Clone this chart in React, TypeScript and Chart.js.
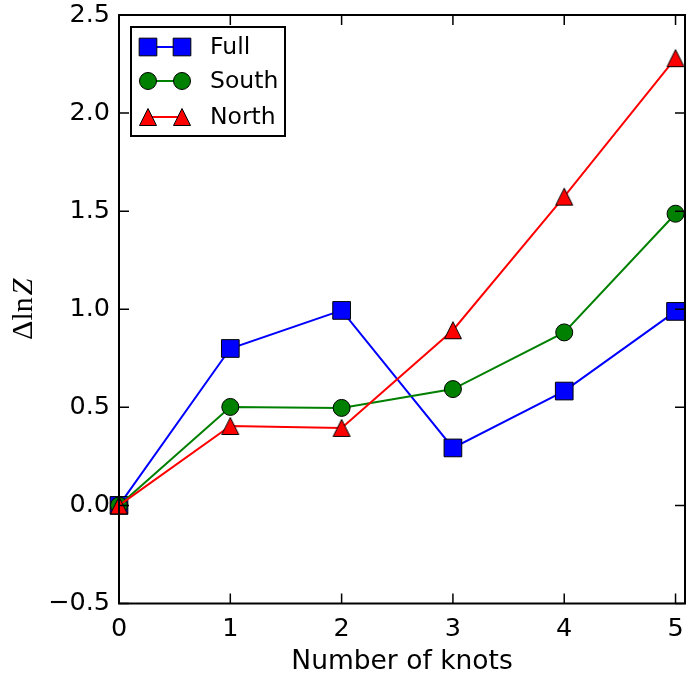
import React, { useEffect, useRef } from "react";
import { Chart, registerables } from "chart.js";

Chart.register(...registerables);

const knots = [0, 1, 2, 3, 4, 5];
const fullValues = [0, 0.8, 0.994, 0.293, 0.583, 0.989];
const southValues = [0, 0.502, 0.497, 0.593, 0.882, 1.487];
const northValues = [0, 0.405, 0.395, 0.893, 1.574, 2.28];
const xTickValues = [0, 1, 2, 3, 4, 5];
const yTickValues = [-0.5, 0, 0.5, 1.0, 1.5, 2.0, 2.5];
const seriesNames = ["Full", "South", "North"];
const xTitle = "Number of knots";

const TRI = 17;

function triPath(ctx: CanvasRenderingContext2D, cx: number, cy: number, s: number) {
  ctx.moveTo(cx, cy - s / 2);
  ctx.lineTo(cx + s / 2, cy + s / 2);
  ctx.lineTo(cx - s / 2, cy + s / 2);
  ctx.closePath();
}

function makeTriangle(fill: string): HTMLCanvasElement {
  const c = document.createElement("canvas");
  const size = TRI + 3;
  c.width = size;
  c.height = size;
  const g = c.getContext("2d")!;
  g.beginPath();
  triPath(g, size / 2, size / 2, TRI);
  g.fillStyle = fill;
  g.fill();
  g.lineWidth = 1;
  g.strokeStyle = "#000";
  g.stroke();
  return c;
}

function drawMarker(ctx: CanvasRenderingContext2D, style: any, x: number, y: number, r: number, fill: string) {
  ctx.save();
  ctx.beginPath();
  if (style === "rect") {
    const s = Math.SQRT1_2 * r;
    ctx.rect(x - s, y - s, 2 * s, 2 * s);
  } else if (style === "circle") {
    ctx.arc(x, y, r, 0, Math.PI * 2);
  } else {
    triPath(ctx, x, y, TRI);
  }
  ctx.fillStyle = fill;
  ctx.fill();
  ctx.lineWidth = 1;
  ctx.strokeStyle = "#000";
  ctx.stroke();
  ctx.restore();
}

const framePlugin = {
  id: "frameTicks",
  afterDatasetsDraw(chart: any) {
    const { ctx, chartArea, scales } = chart;
    const { left, right, top, bottom } = chartArea;
    const x = scales.x;
    const y = scales.y;
    const tl = 10;
    ctx.save();
    ctx.strokeStyle = "#000";
    ctx.lineWidth = 1.5;
    ctx.beginPath();
    for (const v of xTickValues) {
      const px = x.getPixelForValue(v);
      ctx.moveTo(px, bottom);
      ctx.lineTo(px, bottom - tl);
      ctx.moveTo(px, top);
      ctx.lineTo(px, top + tl);
    }
    for (const v of yTickValues) {
      const py = y.getPixelForValue(v);
      ctx.moveTo(left, py);
      ctx.lineTo(left + tl, py);
      ctx.moveTo(right, py);
      ctx.lineTo(right - tl, py);
    }
    ctx.stroke();
    ctx.lineWidth = 2;
    ctx.strokeRect(left, top, right - left, bottom - top);

    // legend
    const bx = left + 12;
    const by = top + 12;
    const bw = 154;
    const bh = 109;
    ctx.fillStyle = "#fff";
    ctx.fillRect(bx, by, bw, bh);
    ctx.lineWidth = 2;
    ctx.strokeRect(bx, by, bw, bh);
    const rows = [20, 54, 90];
    chart.data.datasets.forEach((ds: any, i: number) => {
      const ry = by + rows[i];
      const x1 = bx + 17;
      const x2 = bx + 51;
      ctx.beginPath();
      ctx.strokeStyle = ds.borderColor;
      ctx.lineWidth = 2;
      ctx.moveTo(x1, ry);
      ctx.lineTo(x2, ry);
      ctx.stroke();
      drawMarker(ctx, ds.pointStyle, x1, ry, ds.pointRadius, ds.backgroundColor);
      drawMarker(ctx, ds.pointStyle, x2, ry, ds.pointRadius, ds.backgroundColor);
      ctx.fillStyle = "#000";
      ctx.font = "23.5px 'DejaVu Sans'";
      ctx.textAlign = "left";
      ctx.textBaseline = "middle";
      ctx.fillText(ds.label, bx + 79, ry + 1);
    });

    // y axis title (mathtext style)
    ctx.save();
    ctx.translate(32, (top + bottom) / 2);
    ctx.rotate(-Math.PI / 2);
    ctx.fillStyle = "#000";
    ctx.textBaseline = "alphabetic";
    ctx.textAlign = "left";
    const fs = 30;
    const t1 = "\u0394ln";
    ctx.font = `${fs}px 'Liberation Serif'`;
    const w1 = ctx.measureText(t1).width;
    ctx.font = `italic ${fs}px 'Liberation Serif'`;
    const w2 = ctx.measureText("Z").width;
    const start = -(w1 + w2 + 2) / 2;
    ctx.font = `${fs}px 'Liberation Serif'`;
    ctx.fillText(t1, start, 0);
    ctx.font = `italic ${fs}px 'Liberation Serif'`;
    ctx.fillText("Z", start + w1 + 2, 0);
    ctx.restore();
    ctx.restore();
  },
};

const zeroPad = (s: any) => {
  s.paddingTop = 0;
  s.paddingBottom = 0;
  s.paddingLeft = 0;
  s.paddingRight = 0;
};

export default function App() {
  const ref = useRef<HTMLCanvasElement | null>(null);
  useEffect(() => {
    document.body.style.margin = "0";
    const canvas = ref.current;
    if (!canvas) return;
    const mk = (label: string, data: number[], color: string, style: any, radius: number, order: number) => ({
      label,
      data: knots.map((k, i) => ({ x: k, y: data[i] })),
      borderColor: color,
      backgroundColor: color,
      pointBackgroundColor: color,
      pointBorderColor: "#000",
      pointBorderWidth: 1,
      pointStyle: style,
      pointRadius: radius,
      pointHoverRadius: radius,
      borderWidth: 2,
      tension: 0,
      clip: false as any,
      order,
    });
    const chart = new Chart(canvas, {
      type: "line",
      data: {
        datasets: [
          mk(seriesNames[0], fullValues, "#0000ff", "rect", 12.5, 3),
          mk(seriesNames[1], southValues, "#008000", "circle", 8.5, 2),
          mk(seriesNames[2], northValues, "#ff0000", makeTriangle("#ff0000"), 10, 1),
        ],
      },
      options: {
        animation: false,
        responsive: false,
        layout: { autoPadding: false, padding: { top: 15, right: 1, left: 0, bottom: 0 } },
        plugins: { legend: { display: false }, tooltip: { enabled: false } },
        scales: {
          x: {
            type: "linear",
            min: 0,
            max: 5.085,
            afterBuildTicks: (s: any) => {
              s.ticks = xTickValues.map((v) => ({ value: v }));
            },
            afterFit: (s: any) => {
              s.height = 69.5;
              zeroPad(s);
            },
            grid: { display: false, drawTicks: false },
            border: { display: false },
            ticks: {
              padding: 11,
              color: "#000",
              font: { family: "'DejaVu Sans'", size: 25.5 },
              callback: (v: any) => String(v),
              maxRotation: 0,
            },
            title: {
              display: true,
              text: xTitle,
              color: "#000",
              font: { family: "'DejaVu Sans'", size: 26.5, lineHeight: 1 },
              padding: { top: 0, bottom: -2 },
            },
          },
          y: {
            type: "linear",
            min: -0.5,
            max: 2.5,
            afterBuildTicks: (s: any) => {
              s.ticks = yTickValues.map((v) => ({ value: v }));
            },
            afterFit: (s: any) => {
              s.width = 119;
              zeroPad(s);
            },
            grid: { display: false, drawTicks: false },
            border: { display: false },
            ticks: {
              padding: 9,
              color: "#000",
              font: { family: "'DejaVu Sans'", size: 25.5 },
              callback: (v: any) => Number(v).toFixed(1).replace("-", "\u2212"),
            },
          },
        },
      },
      plugins: [framePlugin],
    });
    return () => chart.destroy();
  }, []);
  return (
    <div style={{ width: 686, height: 673 }}>
      <canvas ref={ref} width={686} height={673} style={{ display: "block" }} />
    </div>
  );
}
